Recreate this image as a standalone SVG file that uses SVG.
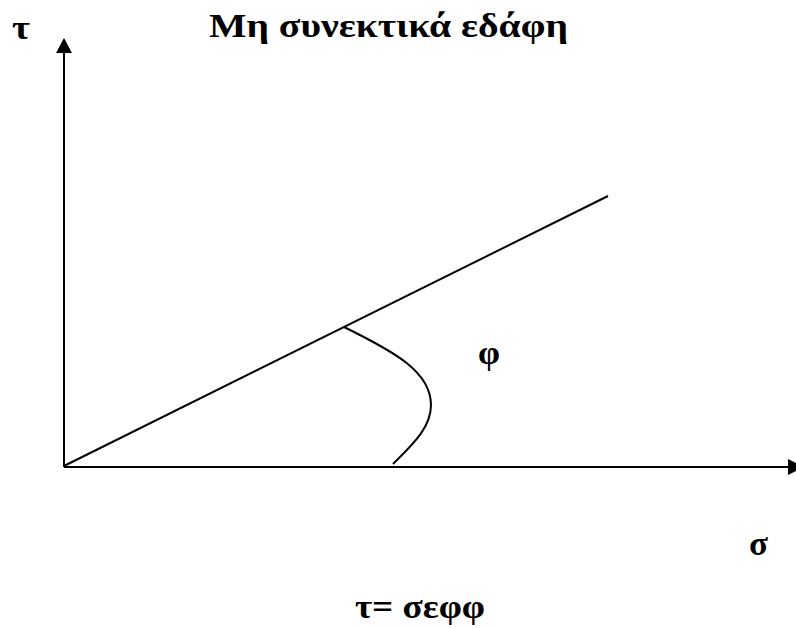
<svg xmlns="http://www.w3.org/2000/svg" width="796" height="628" viewBox="0 0 796 628">
<style>
.t{font-family:"Liberation Serif","DejaVu Serif","Times New Roman",serif;font-weight:bold;fill:#000}
.ln{stroke:#000;stroke-width:2;fill:none}
</style>
<rect width="796" height="628" fill="#fff"/>
<g id="connectors">
<line class="ln" x1="64" y1="467" x2="64" y2="53"/>
<path d="M56,53 L64,38 L72,53 Z" fill="#000"/>
<line class="ln" x1="64" y1="467" x2="789" y2="467"/>
<path d="M788,459 L804,467 L788,475 Z" fill="#000"/>
<line class="ln" x1="64" y1="466" x2="608" y2="196"/>
<path class="ln" d="M344,327 C395,352 431,372 431,405 C431,428 412,445 393,464"/>
</g>
<g id="labels">
<text class="t" x="12" y="39" font-size="33" textLength="18" lengthAdjust="spacingAndGlyphs">τ</text>
<text class="t" x="209" y="37" font-size="33" textLength="359" lengthAdjust="spacingAndGlyphs">Μη συνεκτικά εδάφη</text>
<text class="t" x="478" y="364" font-size="33" textLength="22" lengthAdjust="spacingAndGlyphs">φ</text>
<text class="t" x="749" y="555" font-size="33" textLength="19" lengthAdjust="spacingAndGlyphs">σ</text>
<text class="t" x="355" y="618" font-size="33" textLength="130" lengthAdjust="spacingAndGlyphs">τ= σεφφ</text>
</g>
</svg>
